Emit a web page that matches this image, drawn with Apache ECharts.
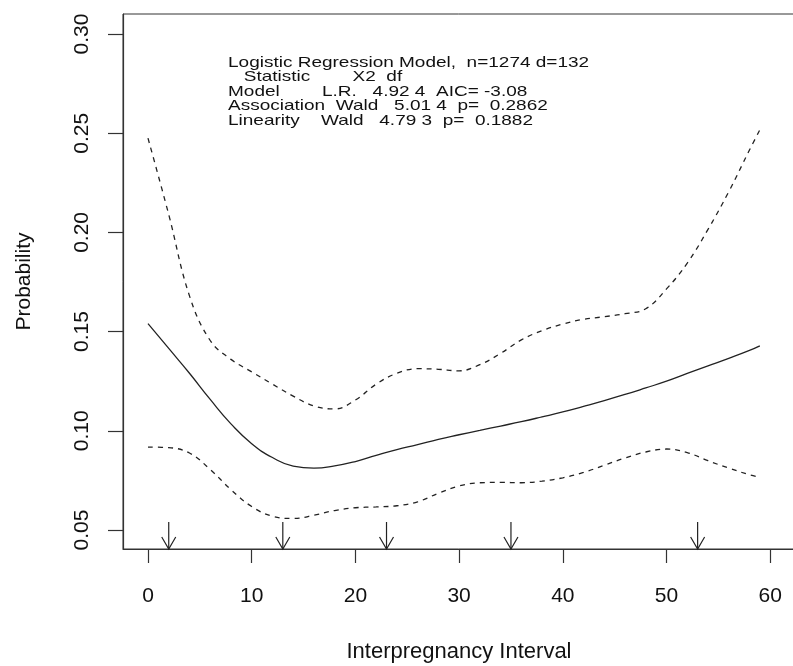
<!DOCTYPE html>
<html>
<head>
<meta charset="utf-8">
<script src="https://cdn.jsdelivr.net/npm/echarts@6/dist/echarts.min.js"></script>
<style>
html,body{margin:0;padding:0;background:#fff;}
#chart{width:793px;height:666px;}
</style>
</head>
<body>
<div id="chart"></div>
<script>
// ---- data ----
const xValues = [0,2,4,6,8,10,12,14,16,18,20,22,24,26,28,30,32,34,36,38,40,42,44,46,48,50,52,54,56,58,59];
const fitValues = [0.154,0.1415,0.129,0.1158,0.1035,0.0935,0.0865,0.0822,0.0812,0.0823,0.0845,0.0876,0.0905,0.093,0.0957,0.098,0.1002,0.1024,0.1046,0.107,0.1095,0.1123,0.1152,0.1183,0.1216,0.125,0.1289,0.1327,0.1365,0.1405,0.1428];
const upperValues = [0.2475,0.209,0.168,0.1455,0.136,0.1297,0.1235,0.1175,0.1125,0.111,0.1155,0.1235,0.129,0.1313,0.131,0.1302,0.1333,0.139,0.1458,0.1505,0.1538,0.1562,0.1575,0.159,0.1615,0.1715,0.1845,0.2015,0.2205,0.2415,0.2517];
const lowerValues = [0.0918,0.0915,0.0888,0.0805,0.0703,0.0618,0.0569,0.0558,0.0574,0.0598,0.0612,0.0616,0.0622,0.0642,0.0685,0.0722,0.0738,0.074,0.0738,0.0746,0.0763,0.079,0.0826,0.0863,0.0893,0.0908,0.089,0.0849,0.0812,0.0778,0.0765];
const knotPositions = [2,13,23,35,53];
const xTicks = [0,10,20,30,40,50,60];
const yTicks = [0.05,0.10,0.15,0.20,0.25,0.30];
const xTitle = 'Interpregnancy Interval';
const yTitle = 'Probability';
const statLines = [
  'Logistic Regression Model,  n=1274 d=132',
  '   Statistic        X2  df',
  'Model        L.R.   4.92 4  AIC= -3.08',
  'Association  Wald   5.01 4  p=  0.2862',
  'Linearity    Wald   4.79 3  p=  0.1882'
];

// ---- chart ----
const X_MIN = -2.41, X_MAX = 62.39, Y_MIN = 0.0404, Y_MAX = 0.3101;
const FONT = '"Liberation Sans", Arial, Helvetica, sans-serif';
const ink = '#222';

function pairs(ys){ return xValues.map((x,i)=>[x, ys[i]]); }

const chart = echarts.init(document.getElementById('chart'), null, {renderer:'canvas'});
const statGraphics = statLines.map((t,i)=>({
  type:'text', left:228, top:55 + i*14.6,
  scaleX:1.31,
  style:{text:t, font:'14.5px '+FONT, fill:'#111', textVerticalAlign:'top'}
}));

chart.setOption({
  animation:false,
  backgroundColor:'#fff',
  grid:{left:123, right:-2, top:14, bottom:117, show:true, borderColor:'#333', borderWidth:1,
        containLabel:false, outerBoundsMode:'none'},
  xAxis:{
    type:'value', min:X_MIN, max:X_MAX,
    name:xTitle, nameLocation:'middle', nameGap:92,
    nameTextStyle:{fontFamily:FONT, fontSize:22, color:'#111'},
    axisLine:{show:true, onZero:false, lineStyle:{color:'#333', width:1.2}},
    axisTick:{show:true, length:14, customValues:xTicks, lineStyle:{color:'#333', width:1.2}},
    axisLabel:{customValues:xTicks, margin:37, fontFamily:FONT, fontSize:21, color:'#111'},
    splitLine:{show:false}
  },
  yAxis:{
    type:'value', min:Y_MIN, max:Y_MAX,
    name:yTitle, nameLocation:'middle', nameGap:88,
    nameTextStyle:{fontFamily:FONT, fontSize:21, color:'#111'},
    axisLine:{show:true, onZero:false, lineStyle:{color:'#333', width:1.2}},
    axisTick:{show:true, length:15, customValues:yTicks, lineStyle:{color:'#333', width:1.2}},
    axisLabel:{customValues:yTicks, rotate:90, margin:30, fontFamily:FONT, fontSize:21, color:'#111',
      formatter:v=>v.toFixed(2)},
    splitLine:{show:false}
  },
  graphic: statGraphics,
  series:[
    {type:'line', data:pairs(fitValues), smooth:0.5, showSymbol:false,
      lineStyle:{color:ink, width:1.3}},
    {type:'line', data:pairs(upperValues), smooth:0.4, showSymbol:false,
      lineStyle:{color:ink, width:1.3, type:[5,5]}},
    {type:'line', data:pairs(lowerValues), smooth:0.4, showSymbol:false,
      lineStyle:{color:ink, width:1.3, type:[5,5]}},
    {type:'custom', data:knotPositions.map(k=>[k, Y_MIN]),
      renderItem:function(params, api){
        const p = api.coord([api.value(0), api.value(1)]);
        const st = {stroke:ink, lineWidth:1.2, fill:null};
        return {type:'group', children:[
          {type:'line', shape:{x1:p[0], y1:p[1]-27, x2:p[0], y2:p[1]}, style:st},
          {type:'polyline', shape:{points:[[p[0]-7,p[1]-12],[p[0],p[1]],[p[0]+7,p[1]-12]]}, style:st}
        ]};
      }}
  ]
});
</script>
</body>
</html>
